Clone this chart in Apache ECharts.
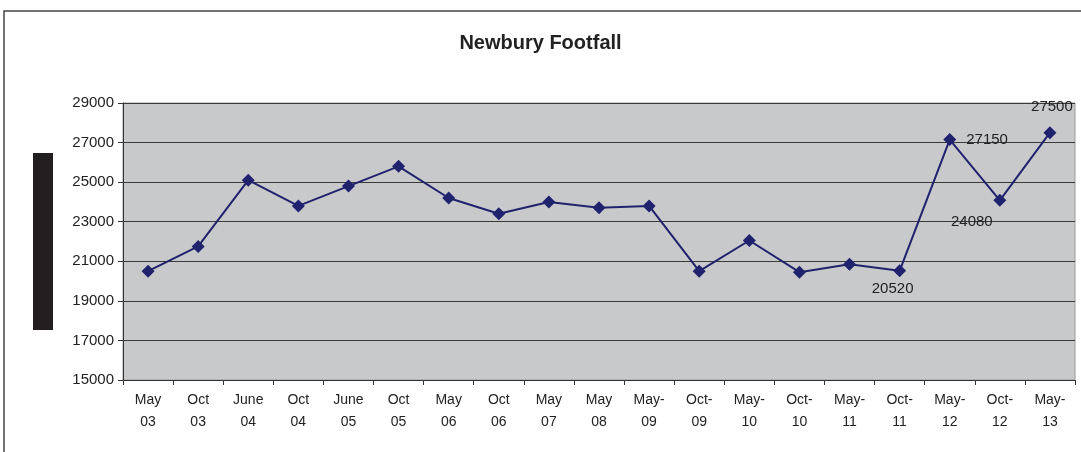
<!DOCTYPE html>
<html>
<head>
<meta charset="utf-8">
<script src="https://cdn.jsdelivr.net/npm/echarts@6/dist/echarts.min.js"></script>
<style>
  html, body { margin: 0; padding: 0; background: #fff; }
  #chart { width: 1081px; height: 452px; }
</style>
</head>
<body>
<div id="chart"></div>
<script>
const categories = ["May 03", "Oct 03", "June 04", "Oct 04", "June 05", "Oct 05", "May 06", "Oct 06",
  "May 07", "May 08", "May- 09", "Oct- 09", "May- 10", "Oct- 10", "May- 11", "Oct- 11",
  "May- 12", "Oct- 12", "May- 13"];
const footfall = [20500, 21750, 25100, 23800, 24800, 25800, 24200, 23400,
  24000, 23700, 23800, 20500, 22050, 20450, 20850, 20520,
  27150, 24080, 27500];
// which points carry a value label, where it sits, and a nudge
const labelled = {
  15: { position: "bottom", offset: [-7, -4] },
  16: { position: "right", offset: [2, 0] },
  17: { position: "bottom", offset: [-28, 0] },
  18: { position: "top", offset: [2, -4] },
};

const chart = echarts.init(document.getElementById("chart"));
window.addEventListener("resize", () => chart.resize());

chart.setOption({
  backgroundColor: "#fff",
  animation: false,
  textStyle: { fontFamily: "Liberation Sans, Arial, sans-serif" },
  title: {
    text: "Newbury Footfall",
    left: "center",
    top: 28,
    textStyle: { fontSize: 20, fontWeight: "bold", color: "#222" },
  },
  graphic: [
    {
      type: "rect",
      shape: { x: 4, y: 11, width: 1100, height: 460 },
      style: { fill: "none", stroke: "#444", lineWidth: 1.5 },
      silent: true,
    },
    {
      type: "rect",
      shape: { x: 33, y: 153, width: 20, height: 177 },
      style: { fill: "#231f20" },
      silent: true,
    },
  ],
  grid: {
    left: 123,
    right: 6,
    top: 103,
    bottom: 72,
    show: true,
    backgroundColor: "#c8c9cb",
    borderColor: "#9a9a9a",
    borderWidth: 1,
  },
  xAxis: {
    type: "category",
    data: categories,
    boundaryGap: true,
    axisLine: { lineStyle: { color: "#333", width: 1 } },
    axisTick: { show: true, length: 5, lineStyle: { color: "#333" } },
    axisLabel: {
      interval: 0,
      color: "#222",
      fontSize: 14,
      lineHeight: 22,
      margin: 9,
      formatter: (v) => v.replace(" ", "\n"),
    },
  },
  yAxis: {
    type: "value",
    min: 15000,
    max: 29000,
    interval: 2000,
    axisLine: { show: true, lineStyle: { color: "#333" } },
    axisTick: { show: true, length: 5, lineStyle: { color: "#333" } },
    axisLabel: { color: "#222", fontSize: 15, margin: 9, formatter: (v) => String(v) },
    splitLine: { show: true, lineStyle: { color: "#3a3a3a", width: 1 } },
  },
  series: [
    {
      type: "line",
      data: footfall.map((v, i) =>
        labelled[i]
          ? { value: v, label: { show: true, distance: 8, ...labelled[i] } }
          : v
      ),
      symbol: "diamond",
      symbolSize: 13,
      lineStyle: { color: "#20226e", width: 2 },
      itemStyle: { color: "#20226e" },
      label: { show: false, color: "#222", fontSize: 15 },
    },
  ],
});
</script>
</body>
</html>
